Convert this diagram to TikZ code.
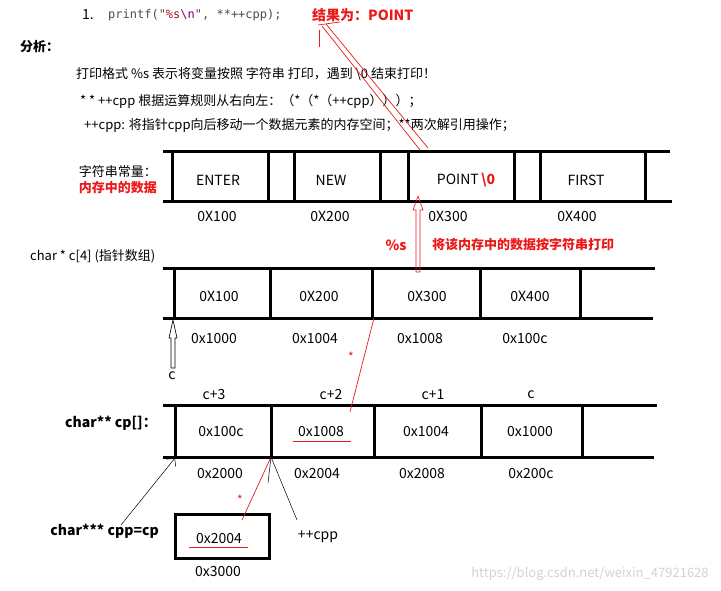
\documentclass[tikz,border=0pt]{standalone}
\usepackage{fontspec}
\setmainfont{Noto Sans CJK SC}
\setmonofont{DejaVu Sans Mono}
\usetikzlibrary{arrows.meta}
\definecolor{myred}{RGB}{235,25,25}
\begin{document}
\begin{tikzpicture}[x=1pt,y=-1pt,
  thick line/.style={line width=3pt},
  lbl/.style={inner sep=0pt,font=\fontsize{14}{16}\selectfont},
  tx/.style={inner sep=0pt,font=\fontsize{13}{15}\selectfont},
  rl/.style={myred,line width=0.7pt}]
\useasboundingbox (0,0) rectangle (721,591);
% header
\node[lbl,anchor=west] (n1) at (82,15) {1.};
\node[lbl,anchor=west] (pf) at (108,15) {\ttfamily\fontsize{12}{14}\selectfont\color{black!70}printf(\textquotedbl\color{myred!70!black}\%s\color{violet}\textbackslash n\color{black!70}\textquotedbl, **++cpp);};
\node[lbl,anchor=west,myred] (res) at (312,15) {\bfseries 结果为：POINT};
\node[tx,anchor=west] (fx) at (20,47) {\bfseries 分析：};
\node[tx,anchor=west] (t1) at (76,74) {打印格式 \%s 表示将变量按照 字符串 打印，遇到 \textbackslash 0 结束打印！};
\node[tx,anchor=west] (t2) at (80,101) {* * ++cpp 根据运算规则从右向左：（*（*（++cpp）））；};
\node[tx,anchor=west] (t3) at (84,125) {++cpp: 将指针cpp向后移动一个数据元素的内存空间；**两次解引用操作；};
% row 1
\draw[thick line] (163,152) -- (670,152) (163,202) -- (672,202);
\foreach \x in {172,268,294,380,408,514,540,645} \draw[thick line] (\x,152) -- (\x,202);
\node[lbl] (e1) at (218,180) {ENTER};
\node[lbl] (e2) at (331,180) {NEW};
\node[lbl] (e3) at (466,180) {POINT\,\textcolor{myred}{\bfseries\textbackslash 0}};
\node[lbl] (e4) at (586,180) {FIRST};
\node[tx,anchor=east] (s1) at (157,172) {字符串常量：};
\node[tx,anchor=east,myred] (s2) at (157,188) {\bfseries 内存中的数据};
\foreach \x/\t in {217/0X100,330/0X200,448/0X300,577/0X400} \node[lbl] at (\x,216) {\t};
\node[lbl,myred] (ps) at (396,245) {\bfseries \%s};
\node[tx,anchor=west,myred] (pr) at (432,245) {\bfseries 将该内存中的数据按字符串打印};
\node[tx,anchor=west] (ca) at (30,256) {char * c[4] (指针数组)};
% row 2
\draw[thick line] (163,268) -- (655,268) (163,318) -- (653,318);
\foreach \x in {174,270,372,480,580} \draw[thick line] (\x,268) -- (\x,318);
\foreach \x/\t in {219/0X100,319/0X200,427/0X300,530/0X400} \node[lbl] at (\x,296) {\t};
\foreach \x/\t in {214/0x1000,315/0x1004,420/0x1008,525/0x100c} \node[lbl] at (\x,339) {\t};
\node[lbl] (c) at (172,376) {c};
% row 3
\foreach \x/\t in {214/c+3,331/c+2,433/c+1,531/c} \node[lbl] at (\x,395) {\t};
\draw[thick line] (163,405) -- (657,405) (163,457) -- (654,457);
\foreach \x in {175,271,374,481,582} \draw[thick line] (\x,405) -- (\x,457);
\node[lbl,anchor=east] (cp) at (157,423) {\bfseries char** cp[]：};
\node[lbl] (v1) at (221,432) {0x100c};
\node[lbl] (v2) at (321,432) {0x1008};
\node[lbl] (v3) at (426,432) {0x1004};
\node[lbl] (v4) at (530,432) {0x1000};
\draw[rl] (293,441) -- (351,441);
\foreach \x/\t in {220/0x2000,317/0x2004,422/0x2008,531/0x200c} \node[lbl] at (\x,474) {\t};
% cpp box
\draw[line width=3pt] (175,514) rectangle (269,558);
\node[lbl] (b) at (219,539) {0x2004};
\draw[rl] (189,547) -- (248,547);
\node[lbl] at (218,572) {0x3000};
\node[lbl,anchor=east] (cpp) at (159,531) {\bfseries char*** cpp=cp};
\node[lbl] (pp) at (318,537) {++cpp};
% connectors
\coordinate (r1) at (374,318); \coordinate (r2) at (350,412);
\draw[rl] (r1) -- (r2);
\node[myred,font=\large] at (351,357) {*};
\coordinate (r3) at (271,457); \coordinate (r4) at (242,520);
\draw[rl] (r3) -- (r4);
\node[myred,font=\large] at (240,500) {*};
\coordinate (k1) at (121,525);
\draw[-{Straight Barb[length=6pt]},line width=0.5pt] (k1) -- (175,458);
\draw[line width=0.5pt] (297,520) -- (271,457) -- (268,483);
% hollow arrows
\draw[myred,line width=0.6pt] (416,272) -- (416,210) -- (413,210) -- (418,196) -- (423,210) -- (420,210) -- (420,272) -- cycle;
\draw[line width=0.6pt] (171,368) -- (171,338) -- (169,338) -- (173,320) -- (177,338) -- (175,338) -- (175,368) -- cycle;
% double red line to result
\draw[rl] (420,150) -- (322,26) (428,148) -- (326,24);
\draw[rl] (319,30) -- (319,47);
\draw[rl] (318,25) -- (340,22);
\node[lbl,gray!35,font=\fontsize{13}{14}\selectfont] at (590,574) {https://blog.csdn.net/weixin\_47921628};
\end{tikzpicture}
\end{document}
